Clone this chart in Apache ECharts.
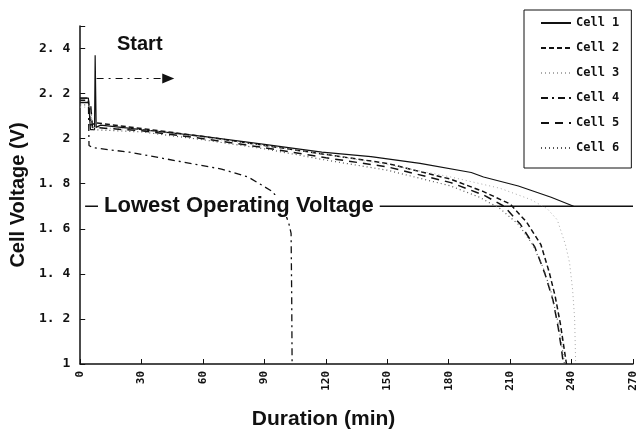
<!DOCTYPE html>
<html>
<head>
<meta charset="utf-8">
<script src="https://cdn.jsdelivr.net/npm/echarts@6/dist/echarts.min.js"></script>
<style>
html,body{margin:0;padding:0;background:#fff;}
#chart{width:640px;height:439px;}
</style>
</head>
<body>
<div id="chart"></div>
<script>
// cell data (time in min, voltage in V)
var cellNames = ['Cell 1','Cell 2','Cell 3','Cell 4','Cell 5','Cell 6'];
var cell1Time = [0,4,5,7,7.3,7.8,10,30,60,90,118,142,166,191,197,214,230,241];
var cell1Volt = [2.18,2.18,2.04,2.04,2.37,2.05,2.06,2.04,2.01,1.975,1.94,1.92,1.89,1.85,1.83,1.79,1.74,1.70];
var cell2Time = [0,4,5,8,30,60,90,120,150,181,197,210,218,225,229,232,234.5,236,237.5];
var cell2Volt = [2.17,2.17,2.06,2.07,2.045,2.01,1.97,1.93,1.89,1.82,1.765,1.71,1.63,1.53,1.41,1.30,1.18,1.09,1.0];
var cell3Time = [0,5,6,30,60,90,120,150,181,205,220,228,233,237,239,240.5,241.5,242];
var cell3Volt = [2.14,2.14,2.05,2.04,2.005,1.97,1.93,1.885,1.83,1.78,1.73,1.69,1.64,1.53,1.45,1.33,1.2,1.0];
var cell4Time = [0,4,4.3,6,24,48,69,82,94,99,102,103,103.3,103.5];
var cell4Volt = [2.18,2.18,1.97,1.96,1.94,1.90,1.865,1.83,1.765,1.70,1.62,1.58,1.3,1.0];
var cell5Time = [0,5,6,30,60,90,120,150,181,197,207,215,222,227,231,233.5,235,236];
var cell5Volt = [2.16,2.16,2.05,2.035,2.0,1.96,1.915,1.875,1.805,1.75,1.70,1.62,1.52,1.40,1.28,1.16,1.07,1.0];
var cell6Time = [0,5,6,30,60,90,120,150,181,195,205,214,221,226,230,233,235,236.5];
var cell6Volt = [2.15,2.15,2.04,2.03,1.995,1.955,1.905,1.86,1.79,1.74,1.69,1.62,1.53,1.43,1.32,1.20,1.10,1.0];
var lowestVoltage = 1.7;
var startArrow = [[8,2.267],[43,2.267]];

function pairs(t, v){
	var out = [];
	for (var i = 0; i < t.length; i++) out.push([t[i], v[i]]);
	return out;
}
function cellSeries(name, t, v, type, color, width){
	return {
		name: name,
		type: 'line',
		data: pairs(t, v),
		symbol: 'none',
		showSymbol: false,
		lineStyle: {color: color, width: width, type: type},
		itemStyle: {color: color},
		z: 3
	};
}

var myChart = echarts.init(document.getElementById('chart'));
var monoFont = 'DejaVu Sans Mono';
var option = {
	animation: false,
	backgroundColor: '#fff',
	grid: {left: 77, right: 7, top: 26, bottom: 75},
	legend: {
		data: cellNames,
		orient: 'vertical',
		left: 524,
		top: 10,
		padding: [7, 12, 14, 16],
		itemGap: 13,
		itemWidth: 30,
		itemHeight: 14,
		itemStyle: {opacity: 0},
		borderColor: '#111',
		borderWidth: 1,
		backgroundColor: '#fff',
		textStyle: {fontFamily: monoFont, fontWeight: 'bold', fontSize: 12, color: '#111'}
	},
	xAxis: {
		type: 'value',
		min: 0, max: 270, interval: 30,
		name: 'Duration (min)',
		nameLocation: 'middle',
		nameGap: 45,
		nameTextStyle: {fontFamily: 'Liberation Sans', fontWeight: 'bold', fontSize: 21, color: '#111', padding: [0, 66, 0, 0]},
		axisLine: {lineStyle: {color: '#111', width: 1.5}},
		axisTick: {inside: true, length: 5, lineStyle: {color: '#111'}},
		axisLabel: {rotate: 90, margin: 7, fontFamily: monoFont, fontWeight: 'bold', fontSize: 11, color: '#111'},
		splitLine: {show: false}
	},
	yAxis: {
		type: 'value',
		min: 1, max: 2.5, interval: 0.2,
		name: 'Cell Voltage (V)',
		nameLocation: 'middle',
		nameGap: 37,
		nameRotate: 90,
		nameTextStyle: {fontFamily: 'Liberation Sans', fontWeight: 'bold', fontSize: 20, color: '#111'},
		axisLine: {show: true, lineStyle: {color: '#111', width: 1.5}},
		axisTick: {show: true, inside: true, length: 5, lineStyle: {color: '#111'}},
		axisLabel: {
			margin: 10,
			fontFamily: monoFont, fontWeight: 'bold', fontSize: 13, color: '#111',
			formatter: function(v){
				if (v > 2.45) return '';
				if (Math.abs(v - Math.round(v)) < 1e-6) return String(Math.round(v));
				return v.toFixed(1).replace('.', '. ');
			}
		},
		splitLine: {show: false}
	},
	graphic: [
		{type: 'text', left: 117, top: 34, z: 10, style: {text: 'Start', fontFamily: 'Liberation Sans', fontWeight: 'bold', fontSize: 20, fill: '#111'}},
		{type: 'text', left: 98, top: 195, z: 10, style: {text: 'Lowest Operating Voltage', fontFamily: 'Liberation Sans', fontWeight: 'bold', fontSize: 22, fill: '#111', backgroundColor: '#fff', padding: [0, 6, 0, 6]}}
	],
	series: [
		cellSeries('Cell 1', cell1Time, cell1Volt, 'solid', '#111', 1.2),
		cellSeries('Cell 2', cell2Time, cell2Volt, [5, 3], '#111', 1.5),
		cellSeries('Cell 3', cell3Time, cell3Volt, [1, 3], '#aaa', 1),
		cellSeries('Cell 4', cell4Time, cell4Volt, [7, 4, 2, 4], '#111', 1.3),
		cellSeries('Cell 5', cell5Time, cell5Volt, [8, 6], '#111', 1.5),
		cellSeries('Cell 6', cell6Time, cell6Volt, [1, 3], '#555', 1.2),
		{
			name: 'lowest',
			type: 'line',
			data: [[2.4, lowestVoltage], [270, lowestVoltage]],
			symbol: 'none',
			lineStyle: {color: '#111', width: 1.5},
			z: 2,
			markLine: {
				silent: true,
				symbol: ['none', 'triangle'],
				symbolSize: [10, 12],
				label: {show: false},
				lineStyle: {color: '#111', width: 1, type: [7, 5, 2, 5]},
				data: [[{coord: startArrow[0]}, {coord: startArrow[1]}]]
			}
		}
	]
};
myChart.setOption(option);
</script>
</body>
</html>
